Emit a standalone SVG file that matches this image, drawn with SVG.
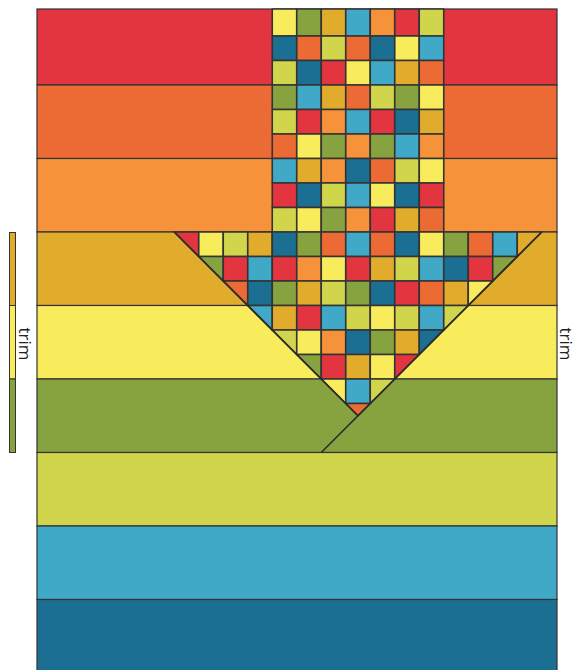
<svg xmlns="http://www.w3.org/2000/svg" width="577" height="670" viewBox="0 0 577 670">
<style>
.r{fill:#e2353f}.or{fill:#ec6a33}.o{fill:#f5923a}.g{fill:#e1ab2b}.y{fill:#f8eb5c}.l{fill:#d1d54b}.gr{fill:#86a33f}.lb{fill:#41a9c8}.db{fill:#1b6f92}
.strip rect{stroke:#333;stroke-width:1.2}
.cells rect,.cells polygon{stroke:#333;stroke-width:1.6;stroke-linejoin:round}
.cut{stroke:#2b2b2b;stroke-width:1.6;fill:none}
.trim rect{stroke:#333;stroke-width:1}
.lbl{font-family:"Open Sans","Noto Sans",sans-serif;font-size:17px;fill:#222;text-anchor:middle}
</style>
<rect x="0" y="0" width="577" height="670" fill="#fff"/>
<g id="strips" class="strip">
<rect class="r" x="37" y="9" width="520" height="76"/>
<rect class="or" x="37" y="85" width="520" height="73.5"/>
<rect class="o" x="37" y="158.5" width="520" height="73.5"/>
<rect class="g" x="37" y="232" width="520" height="73.5"/>
<rect class="y" x="37" y="305.5" width="520" height="73.5"/>
<rect class="gr" x="37" y="379" width="520" height="73.5"/>
<rect class="l" x="37" y="452.5" width="520" height="73.5"/>
<rect class="lb" x="37" y="526" width="520" height="73.5"/>
<rect class="db" x="37" y="599.5" width="520" height="80"/>
</g>
<g id="column" class="cells">
<rect class="y" x="272.25" y="9" width="24.5" height="27"/><rect class="gr" x="296.75" y="9" width="24.5" height="27"/><rect class="g" x="321.25" y="9" width="24.5" height="27"/><rect class="lb" x="345.75" y="9" width="24.5" height="27"/><rect class="o" x="370.25" y="9" width="24.5" height="27"/><rect class="r" x="394.75" y="9" width="24.5" height="27"/><rect class="l" x="419.25" y="9" width="24.5" height="27"/>
<rect class="db" x="272.25" y="36" width="24.5" height="24.5"/><rect class="or" x="296.75" y="36" width="24.5" height="24.5"/><rect class="l" x="321.25" y="36" width="24.5" height="24.5"/><rect class="or" x="345.75" y="36" width="24.5" height="24.5"/><rect class="db" x="370.25" y="36" width="24.5" height="24.5"/><rect class="y" x="394.75" y="36" width="24.5" height="24.5"/><rect class="lb" x="419.25" y="36" width="24.5" height="24.5"/>
<rect class="l" x="272.25" y="60.5" width="24.5" height="24.5"/><rect class="db" x="296.75" y="60.5" width="24.5" height="24.5"/><rect class="r" x="321.25" y="60.5" width="24.5" height="24.5"/><rect class="y" x="345.75" y="60.5" width="24.5" height="24.5"/><rect class="lb" x="370.25" y="60.5" width="24.5" height="24.5"/><rect class="g" x="394.75" y="60.5" width="24.5" height="24.5"/><rect class="or" x="419.25" y="60.5" width="24.5" height="24.5"/>
<rect class="gr" x="272.25" y="85" width="24.5" height="24.5"/><rect class="lb" x="296.75" y="85" width="24.5" height="24.5"/><rect class="g" x="321.25" y="85" width="24.5" height="24.5"/><rect class="or" x="345.75" y="85" width="24.5" height="24.5"/><rect class="l" x="370.25" y="85" width="24.5" height="24.5"/><rect class="gr" x="394.75" y="85" width="24.5" height="24.5"/><rect class="y" x="419.25" y="85" width="24.5" height="24.5"/>
<rect class="l" x="272.25" y="109.5" width="24.5" height="24.5"/><rect class="r" x="296.75" y="109.5" width="24.5" height="24.5"/><rect class="o" x="321.25" y="109.5" width="24.5" height="24.5"/><rect class="lb" x="345.75" y="109.5" width="24.5" height="24.5"/><rect class="r" x="370.25" y="109.5" width="24.5" height="24.5"/><rect class="db" x="394.75" y="109.5" width="24.5" height="24.5"/><rect class="g" x="419.25" y="109.5" width="24.5" height="24.5"/>
<rect class="or" x="272.25" y="134" width="24.5" height="24.5"/><rect class="y" x="296.75" y="134" width="24.5" height="24.5"/><rect class="gr" x="321.25" y="134" width="24.5" height="24.5"/><rect class="o" x="345.75" y="134" width="24.5" height="24.5"/><rect class="gr" x="370.25" y="134" width="24.5" height="24.5"/><rect class="lb" x="394.75" y="134" width="24.5" height="24.5"/><rect class="o" x="419.25" y="134" width="24.5" height="24.5"/>
<rect class="lb" x="272.25" y="158.5" width="24.5" height="24.5"/><rect class="g" x="296.75" y="158.5" width="24.5" height="24.5"/><rect class="o" x="321.25" y="158.5" width="24.5" height="24.5"/><rect class="db" x="345.75" y="158.5" width="24.5" height="24.5"/><rect class="or" x="370.25" y="158.5" width="24.5" height="24.5"/><rect class="l" x="394.75" y="158.5" width="24.5" height="24.5"/><rect class="y" x="419.25" y="158.5" width="24.5" height="24.5"/>
<rect class="r" x="272.25" y="183" width="24.5" height="24.5"/><rect class="db" x="296.75" y="183" width="24.5" height="24.5"/><rect class="l" x="321.25" y="183" width="24.5" height="24.5"/><rect class="lb" x="345.75" y="183" width="24.5" height="24.5"/><rect class="y" x="370.25" y="183" width="24.5" height="24.5"/><rect class="db" x="394.75" y="183" width="24.5" height="24.5"/><rect class="r" x="419.25" y="183" width="24.5" height="24.5"/>
<rect class="l" x="272.25" y="207.5" width="24.5" height="24.5"/><rect class="y" x="296.75" y="207.5" width="24.5" height="24.5"/><rect class="gr" x="321.25" y="207.5" width="24.5" height="24.5"/><rect class="o" x="345.75" y="207.5" width="24.5" height="24.5"/><rect class="r" x="370.25" y="207.5" width="24.5" height="24.5"/><rect class="g" x="394.75" y="207.5" width="24.5" height="24.5"/><rect class="or" x="419.25" y="207.5" width="24.5" height="24.5"/>
</g>
<g id="arrowhead" class="cells">
<polygon class="r" points="174.25,232 198.75,232 198.75,256.5"/>
<rect class="y" x="198.75" y="232" width="24.5" height="24.5"/><rect class="l" x="223.25" y="232" width="24.5" height="24.5"/><rect class="g" x="247.75" y="232" width="24.5" height="24.5"/><rect class="db" x="272.25" y="232" width="24.5" height="24.5"/><rect class="gr" x="296.75" y="232" width="24.5" height="24.5"/><rect class="or" x="321.25" y="232" width="24.5" height="24.5"/><rect class="lb" x="345.75" y="232" width="24.5" height="24.5"/><rect class="or" x="370.25" y="232" width="24.5" height="24.5"/><rect class="db" x="394.75" y="232" width="24.5" height="24.5"/><rect class="y" x="419.25" y="232" width="24.5" height="24.5"/><rect class="gr" x="443.75" y="232" width="24.5" height="24.5"/><rect class="or" x="468.25" y="232" width="24.5" height="24.5"/><rect class="lb" x="492.75" y="232" width="24.5" height="24.5"/>
<polygon class="g" points="517.25,232 541.75,232 517.25,256.5"/>
<polygon class="gr" points="198.75,256.5 223.25,256.5 223.25,281"/>
<rect class="r" x="223.25" y="256.5" width="24.5" height="24.5"/><rect class="lb" x="247.75" y="256.5" width="24.5" height="24.5"/><rect class="r" x="272.25" y="256.5" width="24.5" height="24.5"/><rect class="o" x="296.75" y="256.5" width="24.5" height="24.5"/><rect class="y" x="321.25" y="256.5" width="24.5" height="24.5"/><rect class="r" x="345.75" y="256.5" width="24.5" height="24.5"/><rect class="g" x="370.25" y="256.5" width="24.5" height="24.5"/><rect class="l" x="394.75" y="256.5" width="24.5" height="24.5"/><rect class="lb" x="419.25" y="256.5" width="24.5" height="24.5"/><rect class="db" x="443.75" y="256.5" width="24.5" height="24.5"/><rect class="r" x="468.25" y="256.5" width="24.5" height="24.5"/>
<polygon class="gr" points="492.75,256.5 517.25,256.5 492.75,281"/>
<polygon class="or" points="223.25,281 247.75,281 247.75,305.5"/>
<rect class="db" x="247.75" y="281" width="24.5" height="24.5"/><rect class="gr" x="272.25" y="281" width="24.5" height="24.5"/><rect class="g" x="296.75" y="281" width="24.5" height="24.5"/><rect class="l" x="321.25" y="281" width="24.5" height="24.5"/><rect class="gr" x="345.75" y="281" width="24.5" height="24.5"/><rect class="db" x="370.25" y="281" width="24.5" height="24.5"/><rect class="r" x="394.75" y="281" width="24.5" height="24.5"/><rect class="or" x="419.25" y="281" width="24.5" height="24.5"/><rect class="g" x="443.75" y="281" width="24.5" height="24.5"/>
<polygon class="y" points="468.25,281 492.75,281 468.25,305.5"/>
<polygon class="lb" points="247.75,305.5 272.25,305.5 272.25,330"/>
<rect class="g" x="272.25" y="305.5" width="24.5" height="24.5"/><rect class="r" x="296.75" y="305.5" width="24.5" height="24.5"/><rect class="lb" x="321.25" y="305.5" width="24.5" height="24.5"/><rect class="l" x="345.75" y="305.5" width="24.5" height="24.5"/><rect class="y" x="370.25" y="305.5" width="24.5" height="24.5"/><rect class="l" x="394.75" y="305.5" width="24.5" height="24.5"/><rect class="lb" x="419.25" y="305.5" width="24.5" height="24.5"/>
<polygon class="l" points="443.75,305.5 468.25,305.5 443.75,330"/>
<polygon class="l" points="272.25,330 296.75,330 296.75,354.5"/>
<rect class="y" x="296.75" y="330" width="24.5" height="24.5"/><rect class="o" x="321.25" y="330" width="24.5" height="24.5"/><rect class="db" x="345.75" y="330" width="24.5" height="24.5"/><rect class="gr" x="370.25" y="330" width="24.5" height="24.5"/><rect class="g" x="394.75" y="330" width="24.5" height="24.5"/>
<polygon class="db" points="419.25,330 443.75,330 419.25,354.5"/>
<polygon class="gr" points="296.75,354.5 321.25,354.5 321.25,379"/>
<rect class="r" x="321.25" y="354.5" width="24.5" height="24.5"/><rect class="g" x="345.75" y="354.5" width="24.5" height="24.5"/><rect class="y" x="370.25" y="354.5" width="24.5" height="24.5"/>
<polygon class="r" points="394.75,354.5 419.25,354.5 394.75,379"/>
<polygon class="y" points="321.25,379 345.75,379 345.75,403.5"/>
<rect class="lb" x="345.75" y="379" width="24.5" height="24.5"/>
<polygon class="l" points="370.25,379 394.75,379 370.25,403.5"/>
<polygon class="or" points="345.75,403.5 370.25,403.5 358,415.75"/>
</g>
<g id="connectors">
<polyline class="cut" points="174.25,232 358,415.75"/>
<polyline class="cut" points="541.75,232 321.25,452.5"/>
</g>
<g id="trim-left">
<g class="trim">
<rect class="g" x="9.5" y="232.5" width="6" height="73"/>
<rect class="y" x="9.5" y="305.5" width="6" height="73.5"/>
<rect class="gr" x="9.5" y="379" width="6" height="73.5"/>
</g>
<text class="lbl" transform="translate(18.5,344) rotate(90)">trim</text>
</g>
<g id="trim-right">
<text class="lbl" transform="translate(559.5,344) rotate(90)">trim</text>
</g>
</svg>
